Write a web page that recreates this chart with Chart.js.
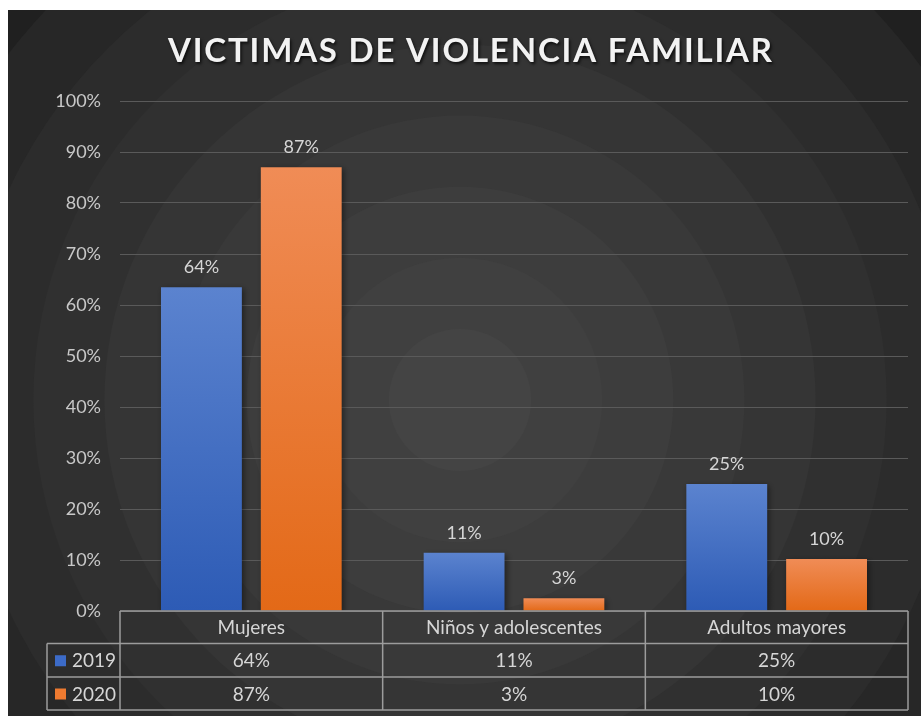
<!DOCTYPE html>
<html><head><meta charset="utf-8">
<script src="https://cdn.jsdelivr.net/npm/chart.js@4.4.1/dist/chart.umd.min.js"></script>
<style>
html,body{margin:0;padding:0;background:#fff;width:921px;height:716px;overflow:hidden;}
#wrap{position:absolute;left:8px;top:10px;width:913px;height:706px;}
</style></head><body>
<div id="wrap"><canvas id="c" width="913" height="706" style="width:913px;height:706px"></canvas></div>
<script>
// ---- data ----
const chartTitle = 'VICTIMAS DE VIOLENCIA FAMILIAR';
const categories = ['Mujeres', 'Niños y adolescentes', 'Adultos mayores'];
const seriesNames = ['2019', '2020'];
const values2019 = [63.5, 11.4, 24.9];
const values2020 = [87.0, 2.5, 10.2];
const yTickMin = 0, yTickMax = 100, yTickStep = 10;

// ---- styles ----
const FONT = 'Lato, "Open Sans", sans-serif';
const TEXT = '#d6d6d6';
const TABLE_LINE = '#9c9c9c';
const seriesColors = [
  {top: '#5b83cf', bottom: '#2d5bb5', swatch: '#3c6bc8'},
  {top: '#f08c56', bottom: '#e36917', swatch: '#ee7a30'}
];

function barGradient(i) {
  return (ctx) => {
    const c = ctx.chart;
    const col = seriesColors[i];
    if (!c.chartArea || !c.scales.y) return col.swatch;
    const yTop = c.scales.y.getPixelForValue(ctx.raw);
    const yBot = c.scales.y.getPixelForValue(0);
    if (!isFinite(yTop) || !isFinite(yBot) || yTop === yBot) return col.swatch;
    const g = c.ctx.createLinearGradient(0, yTop, 0, yBot);
    g.addColorStop(0, col.top);
    g.addColorStop(1, col.bottom);
    return g;
  };
}

const bgPlugin = {
  id: 'bg',
  beforeDraw(chart) {
    const ctx = chart.ctx, W = chart.width, H = chart.height;
    ctx.save();
    ctx.fillStyle = '#202020';
    ctx.fillRect(0, 0, W, H);
    const cx = 452, cy = 390;
    const steps = 9, rMax = 640;
    const c0 = [32, 32, 32], c1 = [68, 68, 68];
    for (let k = 0; k < steps; k++) {
      const r = rMax * (1 - k / steps);
      const t = k / (steps - 1);
      const col = c0.map((a, j) => Math.round(a + (c1[j] - a) * Math.pow(t, 0.8)));
      ctx.beginPath();
      ctx.arc(cx, cy, r, 0, Math.PI * 2);
      ctx.fillStyle = 'rgb(' + col.join(',') + ')';
      ctx.fill();
    }
    ctx.restore();
  }
};

const shadowPlugin = {
  id: 'barShadow',
  beforeDatasetsDraw(chart) {
    const ctx = chart.ctx;
    ctx.save();
    ctx.shadowColor = 'rgba(0,0,0,0.45)';
    ctx.shadowBlur = 6;
    ctx.shadowOffsetX = 2;
    ctx.shadowOffsetY = 2;
  },
  afterDatasetsDraw(chart) {
    chart.ctx.restore();
  }
};

const labelsPlugin = {
  id: 'valLabels',
  afterDatasetsDraw(chart) {
    const ctx = chart.ctx;
    ctx.save();
    ctx.font = '18px ' + FONT;
    ctx.fillStyle = TEXT;
    ctx.textAlign = 'center';
    ctx.textBaseline = 'bottom';
    chart.data.datasets.forEach((ds, di) => {
      const meta = chart.getDatasetMeta(di);
      meta.data.forEach((el, i) => {
        ctx.fillText(Math.round(ds.data[i]) + '%', el.x, el.y - 11);
      });
    });
    ctx.restore();
  }
};

const tablePlugin = {
  id: 'dataTable',
  afterDraw(chart) {
    const ctx = chart.ctx, ca = chart.chartArea;
    const n = categories.length;
    const colW = (ca.right - ca.left) / n;
    const y0 = ca.bottom, y1 = y0 + 32.5, y2 = y0 + 66, y3 = y0 + 99;
    const x0 = 39;
    ctx.save();
    ctx.strokeStyle = TABLE_LINE;
    ctx.lineWidth = 1.5;
    ctx.beginPath();
    ctx.moveTo(ca.left, y0); ctx.lineTo(ca.right, y0);
    [y1, y2, y3].forEach(y => { ctx.moveTo(x0, y); ctx.lineTo(ca.right, y); });
    for (let i = 0; i <= n; i++) {
      const x = ca.left + i * colW;
      ctx.moveTo(x, y0); ctx.lineTo(x, y3);
    }
    ctx.moveTo(x0, y1); ctx.lineTo(x0, y3);
    ctx.stroke();

    ctx.font = '19px ' + FONT;
    ctx.fillStyle = TEXT;
    ctx.textBaseline = 'middle';
    ctx.textAlign = 'center';
    categories.forEach((c, i) => {
      const xc = chart.scales.x.getPixelForValue(i);
      ctx.fillText(c, xc, (y0 + y1) / 2 + 1);
    });
    const rows = [[y1, y2], [y2, y3]];
    chart.data.datasets.forEach((ds, di) => {
      const ym = (rows[di][0] + rows[di][1]) / 2 + 1;
      ds.data.forEach((v, i) => {
        const xc = chart.scales.x.getPixelForValue(i);
        ctx.textAlign = 'center';
        ctx.fillText(Math.round(v) + '%', xc, ym);
      });
      ctx.fillStyle = seriesColors[di].swatch;
      ctx.fillRect(x0 + 8, ym - 6, 11, 11);
      ctx.fillStyle = TEXT;
      ctx.textAlign = 'left';
      ctx.fillText(seriesNames[di], x0 + 25, ym);
    });
    ctx.restore();
  }
};

const titlePlugin = {
  id: 'bigTitle',
  afterDraw(chart) {
    const ctx = chart.ctx;
    ctx.save();
    ctx.font = 'bold 33px ' + FONT;
    ctx.fillStyle = '#f2f2f2';
    ctx.textAlign = 'center';
    ctx.textBaseline = 'middle';
    ctx.letterSpacing = '0px';
    const w = ctx.measureText(chartTitle).width;
    const target = 604;
    const sp = (target - w) / (chartTitle.length - 1);
    ctx.letterSpacing = sp.toFixed(2) + 'px';
    ctx.shadowColor = 'rgba(0,0,0,0.7)';
    ctx.shadowBlur = 3;
    ctx.shadowOffsetX = 1.5;
    ctx.shadowOffsetY = 2;
    ctx.fillText(chartTitle, 462 + sp / 2, 41);
    ctx.restore();
  }
};

new Chart(document.getElementById('c'), {
  type: 'bar',
  data: {
    labels: categories,
    datasets: [
      {label: seriesNames[0], data: values2019, backgroundColor: barGradient(0)},
      {label: seriesNames[1], data: values2020, backgroundColor: barGradient(1)}
    ]
  },
  options: {
    responsive: false,
    devicePixelRatio: 1,
    animation: false,
    layout: {padding: {top: 91, right: 13, left: 0, bottom: 0}},
    datasets: {bar: {categoryPercentage: 0.76, barPercentage: 0.81}},
    plugins: {legend: {display: false}, title: {display: false}, tooltip: {enabled: false}},
    scales: {
      x: {
        grid: {display: false},
        border: {display: false},
        ticks: {display: false},
        afterFit: s => { s.height = 105; }
      },
      y: {
        min: yTickMin, max: yTickMax,
        border: {display: false},
        grid: {color: '#5a5a5a', lineWidth: 1, drawTicks: false},
        ticks: {
          stepSize: yTickStep, padding: 19, color: '#c8c8c8',
          font: {family: FONT, size: 18},
          callback: v => v + '%'
        },
        afterFit: s => { s.width = 112; }
      }
    }
  },
  plugins: [bgPlugin, shadowPlugin, labelsPlugin, tablePlugin, titlePlugin]
});
</script>
</body></html>
